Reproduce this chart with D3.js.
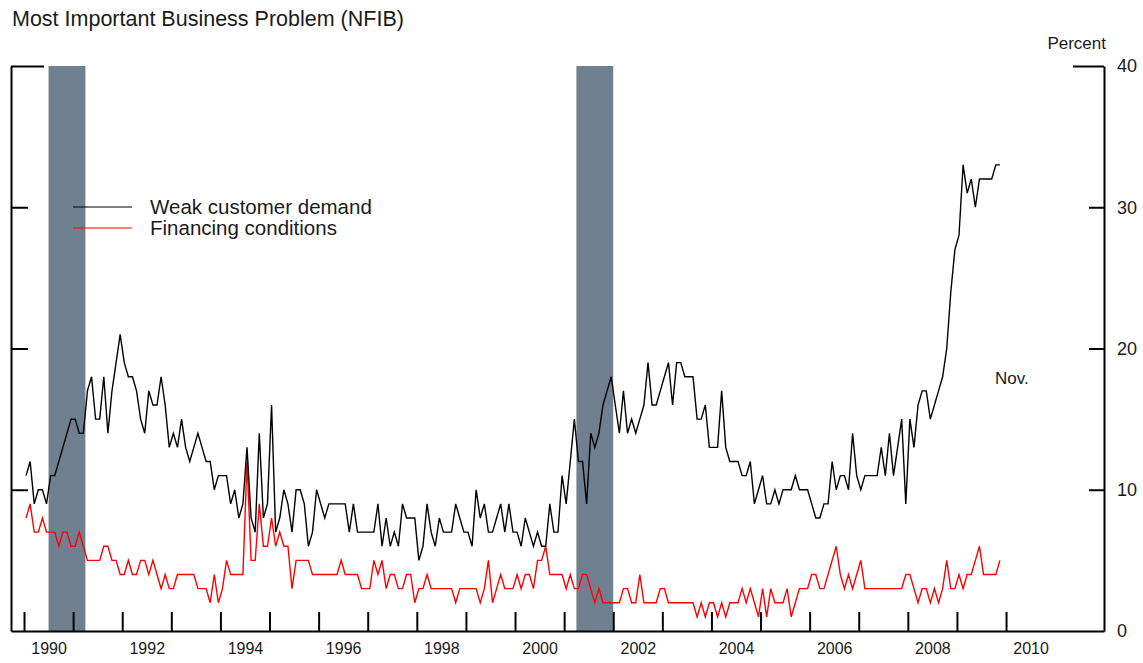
<!DOCTYPE html>
<html>
<head>
<meta charset="utf-8">
<script src="https://cdn.jsdelivr.net/npm/d3@7"></script>
<style>
  body { margin: 0; background: #fff; }
  svg { display: block; font-family: "Liberation Sans", Arial, sans-serif; }
</style>
</head>
<body>
<svg width="1143" height="663"></svg>
<script>
// NFIB: single most important problem, percent of firms
// monthly, Jan 1990 - Nov 2009
const startYear = 1990;

const demand = [
  11, 12, 9, 10, 10, 9, 11, 11, 12, 13, 14, 15, // 1990
  15, 14, 14, 17, 18, 15, 15, 18, 14, 17, 19, 21, // 1991
  19, 18, 18, 17, 15, 14, 17, 16, 16, 18, 16, 13, // 1992
  14, 13, 15, 13, 12, 13, 14, 13, 12, 12, 10, 11, // 1993
  11, 11, 9, 10, 8, 9, 13, 8, 7, 14, 8, 9, // 1994
  16, 7, 8, 10, 9, 7, 10, 10, 9, 6, 7, 10, // 1995
  9, 8, 9, 9, 9, 9, 9, 7, 9, 7, 7, 7, // 1996
  7, 7, 9, 6, 8, 6, 7, 6, 9, 8, 8, 8, // 1997
  5, 6, 9, 7, 6, 8, 7, 7, 7, 9, 8, 7, // 1998
  7, 6, 10, 8, 9, 7, 7, 8, 9, 7, 9, 7, // 1999
  7, 6, 8, 7, 6, 7, 6, 6, 9, 7, 7, 11, // 2000
  9, 12, 15, 12, 12, 9, 14, 13, 14, 16, 17, 18, // 2001
  16, 14, 17, 14, 15, 14, 15, 16, 19, 16, 16, 17, // 2002
  18, 19, 16, 19, 19, 18, 18, 18, 15, 15, 16, 13, // 2003
  13, 13, 17, 13, 12, 12, 12, 11, 11, 12, 9, 10, // 2004
  11, 9, 9, 10, 9, 10, 10, 10, 11, 10, 10, 10, // 2005
  9, 8, 8, 9, 9, 12, 10, 11, 11, 10, 14, 11, // 2006
  10, 11, 11, 11, 11, 13, 11, 14, 11, 13, 15, 9, // 2007
  15, 13, 16, 17, 17, 15, 16, 17, 18, 20, 24, 27, // 2008
  28, 33, 31, 32, 30, 32, 32, 32, 32, 33, 33 // 2009
];

const financing = [
  8, 9, 7, 7, 8, 7, 7, 7, 6, 7, 7, 6, // 1990
  6, 7, 6, 5, 5, 5, 5, 6, 6, 5, 5, 4, // 1991
  4, 5, 4, 4, 5, 5, 4, 5, 4, 3, 4, 3, // 1992
  3, 4, 4, 4, 4, 4, 3, 3, 3, 2, 4, 2, // 1993
  3, 5, 4, 4, 4, 4, 12, 5, 5, 9, 6, 6, // 1994
  8, 6, 7, 6, 6, 3, 5, 5, 5, 5, 4, 4, // 1995
  4, 4, 4, 4, 4, 5, 4, 4, 4, 4, 3, 3, // 1996
  3, 5, 4, 5, 3, 4, 4, 3, 3, 4, 4, 2, // 1997
  3, 3, 4, 3, 3, 3, 3, 3, 3, 2, 3, 3, // 1998
  3, 3, 3, 2, 3, 5, 2, 3, 4, 3, 3, 3, // 1999
  4, 3, 4, 4, 3, 5, 5, 6, 4, 4, 4, 4, // 2000
  3, 4, 3, 3, 4, 4, 3, 2, 3, 2, 2, 2, // 2001
  2, 2, 3, 3, 2, 2, 4, 2, 2, 2, 2, 3, // 2002
  3, 2, 2, 2, 2, 2, 2, 2, 1, 2, 1, 2, // 2003
  2, 1, 2, 1, 2, 2, 2, 3, 2, 3, 2, 1, // 2004
  3, 1, 3, 2, 2, 2, 3, 1, 2, 3, 3, 3, // 2005
  4, 4, 3, 3, 4, 5, 6, 4, 3, 4, 3, 4, // 2006
  5, 3, 3, 3, 3, 3, 3, 3, 3, 3, 3, 4, // 2007
  4, 3, 2, 3, 3, 2, 3, 2, 3, 5, 3, 3, // 2008
  4, 3, 4, 4, 5, 6, 4, 4, 4, 4, 5 // 2009
];

// NBER recessions, in decimal years
const recessions = [[1990.5, 1991.25], [2001.25, 2002.0]];

const seriesNames = ["Weak customer demand", "Financing conditions"];
const yearTicks = d3.range(1990, 2011);
const yearLabels = d3.range(1990, 2011, 2);
const percentTicks = [0, 10, 20, 30, 40];

let svg = d3.select("svg");

// scales: frame runs from x=11 to x=1104
let x = d3.scaleLinear().domain([1989.735, 2011.995]).range([11, 1104]);
let y = d3.scaleLinear().domain([0, 40]).range([631, 66]);

// title
svg.append("text")
  .attr("x", 12)
  .attr("y", 26)
  .attr("font-size", 21.5)
  .attr("fill", "#1a1a1a")
  .text("Most Important Business Problem (NFIB)");

// recession shading
svg.append("g")
  .selectAll("rect")
  .data(recessions)
  .enter()
  .append("rect")
  .attr("x", (d) => x(d[0]))
  .attr("width", (d) => x(d[1]) - x(d[0]))
  .attr("y", y(40))
  .attr("height", y(0) - y(40))
  .attr("fill", "#708090");

// lines
function monthX(d, i) {
  return x(startYear + (i + 0.5) / 12);
}

let line = d3.line().x(monthX).y((d) => y(d));

svg.append("path")
  .datum(financing)
  .attr("fill", "none")
  .attr("stroke", "red")
  .attr("stroke-width", 1.4)
  .attr("d", line);

svg.append("path")
  .datum(demand)
  .attr("fill", "none")
  .attr("stroke", "black")
  .attr("stroke-width", 1.4)
  .attr("d", line);

// bottom axis: year ticks pointing up, labels centred in the year
let xAxis = svg.append("g")
  .attr("transform", "translate(0," + y(0) + ")")
  .call(d3.axisBottom(x).tickValues(yearTicks).tickSize(-19).tickSizeOuter(0).tickFormat(""));

let xLabels = svg.append("g")
  .attr("transform", "translate(0," + y(0) + ")")
  .call(d3.axisBottom(x).tickValues(yearLabels.map((d) => d + 0.5)).tickSize(0).tickPadding(12)
    .tickFormat((d) => Math.floor(d)));
xLabels.select(".domain").remove();
xLabels.selectAll("text").attr("font-size", 16).attr("fill", "#1a1a1a");

// right axis with labels
let yAxisR = svg.append("g")
  .attr("transform", "translate(1104,0)")
  .call(d3.axisRight(y).tickValues(percentTicks).tickSize(-15).tickSizeOuter(0).tickPadding(13));
yAxisR.selectAll("text").attr("font-size", 18).attr("fill", "#1a1a1a");
yAxisR.selectAll(".tick line").filter((d) => d === 40).attr("x2", -31);
yAxisR.selectAll(".tick line").filter((d) => d === 0).remove();

// left axis, ticks only
let yAxisL = svg.append("g")
  .attr("transform", "translate(11,0)")
  .call(d3.axisLeft(y).tickValues([10, 20, 30, 40]).tickSize(-17).tickSizeOuter(0).tickFormat(""));
yAxisL.selectAll(".tick line").filter((d) => d === 40).attr("x2", 33);

svg.selectAll(".domain, .tick line").attr("stroke", "black").attr("stroke-width", 2);

svg.append("text")
  .attr("x", 1106)
  .attr("y", 49)
  .attr("text-anchor", "end")
  .attr("font-size", 17)
  .attr("fill", "#1a1a1a")
  .text("Percent");

// legend
let legend = svg.append("g")
  .selectAll("g")
  .data(seriesNames)
  .enter()
  .append("g")
  .attr("transform", (d, i) => "translate(0," + (207 + i * 21) + ")");

legend.append("line")
  .attr("x1", 73)
  .attr("x2", 132)
  .attr("stroke", (d, i) => (i === 0 ? "black" : "red"))
  .attr("stroke-width", 1.2);

legend.append("text")
  .attr("x", 150)
  .attr("y", 7)
  .attr("font-size", 20.5)
  .attr("fill", "#1a1a1a")
  .text((d) => d);

// last observation note
svg.append("text")
  .attr("x", 995)
  .attr("y", 384)
  .attr("font-size", 17)
  .attr("fill", "#1a1a1a")
  .text("Nov.");
</script>
</body>
</html>
